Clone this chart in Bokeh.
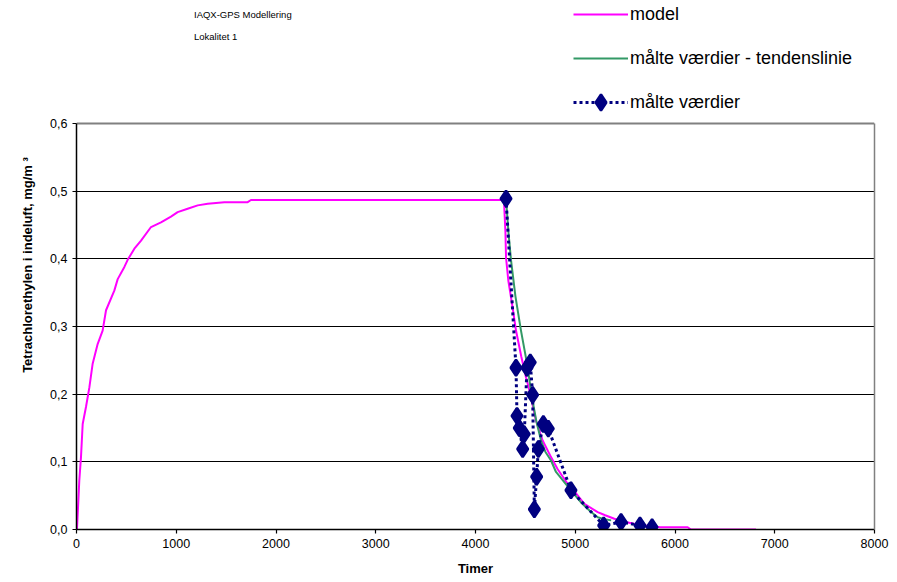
from bokeh.plotting import figure
from bokeh.models import (Range1d, FixedTicker, Legend, LegendItem, Label,
                          LinearAxis, Grid)
from bokeh.embed import file_html
from bokeh.resources import INLINE

# ---------------- data ----------------
model_t = [0, 5, 28, 45, 62, 95, 129, 162, 212, 262, 296, 379, 413, 480, 513,
           580, 647, 747, 847, 947, 1014, 1114, 1215, 1315, 1482, 1716, 1749,
           4285, 4300, 4306, 4329, 4370, 4406, 4460, 4506, 4516, 4556, 4606,
           4673, 4757, 4824, 4924, 5000, 5091, 5225, 5300, 5392, 5500, 5592,
           5700, 5792, 5850, 6127, 6160, 6812]
model_c = [0.0, 0.001, 0.072, 0.107, 0.156, 0.181, 0.210, 0.245, 0.274, 0.294,
           0.324, 0.353, 0.370, 0.388, 0.3985, 0.415, 0.427, 0.447, 0.454,
           0.4625, 0.469, 0.474, 0.479, 0.4813, 0.4837, 0.4837, 0.487,
           0.487, 0.44, 0.402, 0.368, 0.33, 0.294, 0.255, 0.225, 0.220,
           0.1955, 0.161, 0.1315, 0.107, 0.089, 0.0675, 0.055, 0.038, 0.0256,
           0.021, 0.0158, 0.011, 0.0084, 0.006, 0.0044, 0.0034, 0.0034, 0.0,
           0.0]

trend_t = [4306, 4330, 4356, 4400, 4456, 4523, 4560, 4610, 4657, 4700, 4757,
           4807, 4880, 4957, 5058, 5150, 5225, 5300, 5360]
trend_c = [0.489, 0.44, 0.398, 0.345, 0.294, 0.240, 0.200, 0.160, 0.1315,
           0.115, 0.102, 0.085, 0.072, 0.058, 0.040, 0.027, 0.018, 0.015,
           0.0135]

meas_t = [4306, 4406, 4416, 4439, 4473, 4489, 4516, 4549, 4573, 4590, 4613,
          4630, 4680, 4730, 4957, 5285, 5459, 5649, 5770]
meas_c = [0.489, 0.239, 0.168, 0.150, 0.119, 0.141, 0.239, 0.247, 0.199,
          0.030, 0.078, 0.119, 0.156, 0.149, 0.058, 0.006, 0.011, 0.006,
          0.0035]

x_ticks = [0, 1000, 2000, 3000, 4000, 5000, 6000, 7000, 8000]
y_ticks = [0.0, 0.1, 0.2, 0.3, 0.4, 0.5, 0.6]
y_tick_labels = ["0,0", "0,1", "0,2", "0,3", "0,4", "0,5", "0,6"]

FONT = "Liberation Sans"

Y_MAX = 0.6
Y_TOP = 0.6 * 529.0 / 406.0   # frame extends to canvas top, 0.6 lands at 123 px

p = figure(width=897, height=582, output_backend="svg", toolbar_location=None,
           x_range=Range1d(0, 8000), y_range=Range1d(0, Y_TOP),
           min_border_left=76, min_border_right=23, min_border_top=0,
           min_border_bottom=53)
p.background_fill_color = "white"
p.border_fill_color = "white"
p.outline_line_color = None

# grid
p.xgrid.visible = False
p.ygrid.ticker = FixedTicker(ticks=y_ticks[1:-1])
p.ygrid.grid_line_color = "black"
p.ygrid.grid_line_width = 1.2
top_grid = Grid(dimension=1, ticker=FixedTicker(ticks=[Y_MAX]),
                grid_line_color="#808080", grid_line_width=2)
p.add_layout(top_grid)

# axes
for ax in (p.xaxis, p.yaxis):
    ax.axis_line_color = "black"
    ax.axis_line_width = 1.5
    ax.major_tick_line_color = "black"
    ax.major_tick_line_width = 1.2
    ax.major_tick_in = 0
    ax.major_tick_out = 4
    ax.minor_tick_line_color = None
    ax.major_label_text_font = FONT
    ax.major_label_text_font_size = "12.5px"
    ax.major_label_text_color = "black"
    ax.axis_label_text_font = FONT
    ax.axis_label_text_font_size = "13px"
    ax.axis_label_text_font_style = "bold"
    ax.axis_label_text_color = "black"

p.xaxis.ticker = FixedTicker(ticks=x_ticks)
p.xaxis.major_label_overrides = {t: str(t) for t in x_ticks}
p.xaxis.major_label_standoff = 5
p.xaxis.axis_label = "Timer"
p.xaxis.axis_label_standoff = 10

p.yaxis.bounds = (0, Y_MAX)
p.yaxis.ticker = FixedTicker(ticks=y_ticks)
p.yaxis.major_label_overrides = {t: l for t, l in zip(y_ticks, y_tick_labels)}
p.yaxis.major_label_standoff = 5
p.yaxis.axis_label = "Tetrachlorethylen i indeluft, mg/m \u00b3"
p.yaxis.axis_label_standoff = 12

# right-hand plot-area border (grey)
right_ax = LinearAxis(bounds=(0, Y_MAX), ticker=FixedTicker(ticks=[]),
                      axis_line_color="#808080", axis_line_width=1.5,
                      major_tick_line_color=None, minor_tick_line_color=None,
                      major_label_text_font_size="0px")
p.add_layout(right_ax, "right")

# series
r_model = p.line(model_t, model_c, line_color="#FF00FF", line_width=2)
r_trend = p.line(trend_t, trend_c, line_color="#339966", line_width=2)
r_meas_line = p.line(meas_t, meas_c, line_color="#000080", line_width=3,
                     line_dash="3 3")
r_meas_pts = p.scatter(meas_t, meas_c, marker="diamond", size=16,
                       fill_color="#000080", line_color="#000080",
                       line_width=2.5)

legend = Legend(items=[
    LegendItem(label="model", renderers=[r_model]),
    LegendItem(label="målte værdier - tendenslinie", renderers=[r_trend]),
    LegendItem(label="målte værdier", renderers=[r_meas_line, r_meas_pts]),
], location=(497, 407))
legend.margin = 0
legend.padding = 0
legend.border_line_alpha = 0
legend.background_fill_alpha = 0
legend.glyph_width = 55
legend.glyph_height = 40
legend.label_height = 40
legend.label_standoff = 2
legend.spacing = 4
legend.label_text_font = FONT
legend.label_text_font_size = "18px"
legend.label_text_color = "black"
p.add_layout(legend, "center")

p.add_layout(Label(x=1178, y=0.761, text="IAQX-GPS Modellering",
                   text_font=FONT, text_font_size="9.5px",
                   text_baseline="middle", text_color="black"))
p.add_layout(Label(x=1178, y=0.7286, text="Lokalitet 1",
                   text_font=FONT, text_font_size="9.5px",
                   text_baseline="middle", text_color="black"))

open("out.html", "w").write(file_html(p, INLINE))
